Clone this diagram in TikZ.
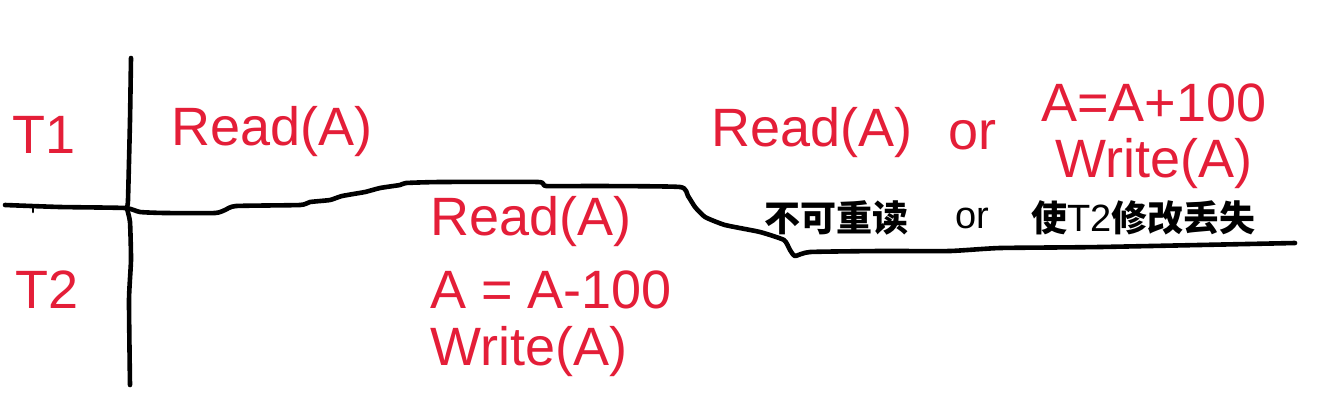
\documentclass[tikz,border=0pt]{standalone}
\usepackage{fontspec}
\setmainfont{Liberation Sans}
\newfontfamily\cjk{Noto Sans CJK SC}
\definecolor{hred}{RGB}{228,30,56}
\begin{document}
\begin{tikzpicture}[x=1pt,y=-1pt,
  redtxt/.style={text=hred,font=\fontsize{54}{60}\selectfont,inner sep=0pt},
  blktxt/.style={text=black,font=\cjk\bfseries\fontsize{36}{40}\selectfont,inner sep=0pt},
  hand/.style={line width=4.6pt,line cap=round,line join=round}]
\useasboundingbox (0,0) rectangle (1324,416);
% freehand lines
\draw[hand] plot[smooth,tension=0.3] coordinates {(131,58) (130,120) (128,200) (127,208) (130,222) (131,260) (129,300) (130,385)};
\draw[hand] plot[smooth,tension=0.3] coordinates {(5,205) (60,207) (125,208) (140,212) (165,213) (215,213) (225,210) (236,206) (300,205) (310,202) (330,200) (342,196) (365,192) (380,188) (400,185) (406,183) (440,182) (538,182) (546,186) (600,186) (680,187) (688,196) (695,207) (705,217) (725,225) (760,232) (784,240) (790,250) (795,256) (810,252) (880,251) (950,251) (1000,248) (1100,247) (1295,243)};
\draw[line width=2.5pt,line cap=round] (33,208) -- (33,212);
% labels
\node[redtxt] (t1) at (44,135) {T1};
\node[redtxt] (t2) at (47,290) {T2};
\node[redtxt] (r1) at (272,132) {Read(A)};
\node[redtxt,anchor=west] (r2) at (430,222) {Read(A)};
\node[redtxt,anchor=west] (sub) at (430,290) {A = A-100};
\node[redtxt,anchor=west] (w2) at (430,352) {Write(A)};
\node[redtxt] (r3) at (812,133) {Read(A)};
\node[redtxt] (or1) at (972,135) {or};
\node[redtxt] (add) at (1154,103) {A=A+100};
\node[redtxt] (w1) at (1154,164) {Write(A)};
\node[blktxt,anchor=west] (c1) at (764,218) {不可重读};
\node[text=black,font=\fontsize{38}{40}\selectfont,inner sep=0pt] (or2) at (972,218) {or};
\node[blktxt,anchor=west] (c2) at (1031,218) {使{\normalfont\fontsize{38}{40}\selectfont T2}修改丢失};
\end{tikzpicture}
\end{document}
